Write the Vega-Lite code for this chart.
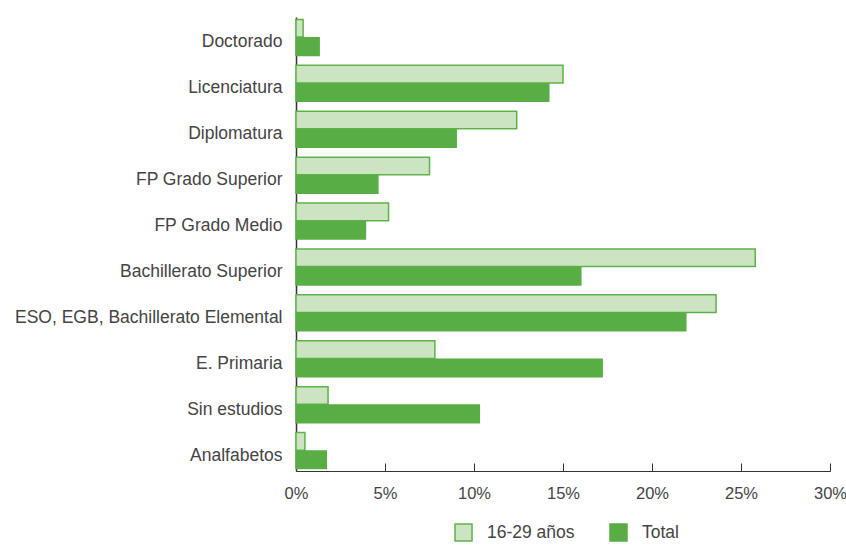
{
  "$schema": "https://vega.github.io/schema/vega-lite/v6.json",
  "autosize": {"type": "none"},
  "width": 534,
  "height": 454,
  "padding": {"left": 296, "top": 17, "right": 16, "bottom": 76},
  "background": "white",
  "config": {"view": {"stroke": null}, "font": "Liberation Sans"},
  "data": {"values": [
    {"nivel": "Doctorado", "serie": "16-29 años", "v": 0.4},
    {"nivel": "Doctorado", "serie": "Total", "v": 1.3},
    {"nivel": "Licenciatura", "serie": "16-29 años", "v": 15.0},
    {"nivel": "Licenciatura", "serie": "Total", "v": 14.2},
    {"nivel": "Diplomatura", "serie": "16-29 años", "v": 12.4},
    {"nivel": "Diplomatura", "serie": "Total", "v": 9.0},
    {"nivel": "FP Grado Superior", "serie": "16-29 años", "v": 7.5},
    {"nivel": "FP Grado Superior", "serie": "Total", "v": 4.6},
    {"nivel": "FP Grado Medio", "serie": "16-29 años", "v": 5.2},
    {"nivel": "FP Grado Medio", "serie": "Total", "v": 3.9},
    {"nivel": "Bachillerato Superior", "serie": "16-29 años", "v": 25.8},
    {"nivel": "Bachillerato Superior", "serie": "Total", "v": 16.0},
    {"nivel": "ESO, EGB, Bachillerato Elemental", "serie": "16-29 años", "v": 23.6},
    {"nivel": "ESO, EGB, Bachillerato Elemental", "serie": "Total", "v": 21.9},
    {"nivel": "E. Primaria", "serie": "16-29 años", "v": 7.8},
    {"nivel": "E. Primaria", "serie": "Total", "v": 17.2},
    {"nivel": "Sin estudios", "serie": "16-29 años", "v": 1.8},
    {"nivel": "Sin estudios", "serie": "Total", "v": 10.3},
    {"nivel": "Analfabetos", "serie": "16-29 años", "v": 0.5},
    {"nivel": "Analfabetos", "serie": "Total", "v": 1.7}
  ]},
  "mark": {"type": "bar", "strokeWidth": 1.5},
  "encoding": {
    "y": {
      "field": "nivel", "type": "nominal", "sort": null,
      "scale": {"paddingInner": 0.216, "paddingOuter": 0.053},
      "axis": {"title": null, "ticks": false, "domainColor": "#333", "domainWidth": 1.5,
               "labelFontSize": 17.5, "labelColor": "#444", "labelPadding": 14, "labelLimit": 400,
               "labelOffset": 5}
    },
    "yOffset": {"field": "serie", "type": "nominal", "scale": {"paddingInner": 0.04}},
    "x": {
      "field": "v", "type": "quantitative",
      "scale": {"domain": [0, 30], "nice": false},
      "axis": {"title": null, "values": [0, 5, 10, 15, 20, 25, 30], "grid": false,
               "labelExpr": "datum.value + '%'", "tickSize": -8, "tickColor": "#333",
               "labelAlign": "center", "labelFlush": false,
               "domainColor": "#333", "labelFontSize": 16.5, "labelColor": "#444", "labelPadding": 22}
    },
    "fill": {
      "field": "serie", "type": "nominal",
      "scale": {"domain": ["16-29 años", "Total"], "range": ["#cce4c2", "#58ae45"]},
      "legend": {"title": null, "orient": "none", "legendX": 158, "legendY": 506,
                 "direction": "horizontal",
                 "symbolType": "square", "symbolSize": 289, "symbolStrokeWidth": 1.5,
                 "labelFontSize": 17.5, "labelColor": "#444", "labelOffset": 14,
                 "columnPadding": 32}
    },
    "stroke": {
      "field": "serie", "type": "nominal",
      "scale": {"domain": ["16-29 años", "Total"], "range": ["#5db34a", "#58ae45"]},
      "legend": null
    }
  }
}
